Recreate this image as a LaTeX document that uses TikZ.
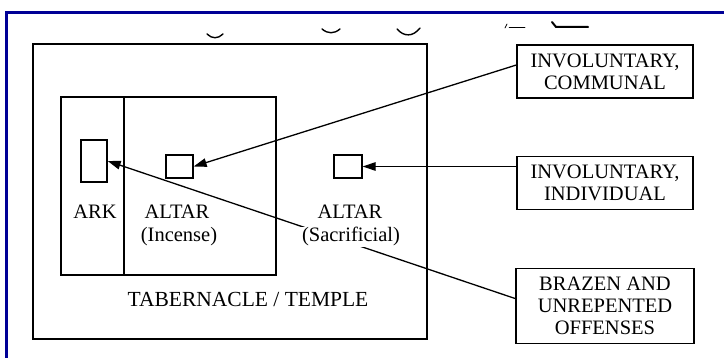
\documentclass[tikz,border=0pt]{standalone}
\usepackage{fontspec}
\setmainfont{Liberation Serif}
\usetikzlibrary{positioning,arrows.meta}
\definecolor{frameblue}{HTML}{000096}

\begin{document}
\begin{tikzpicture}[
        x=1pt, y=-1pt,
        >={Triangle[length=13pt,width=8.5pt]},
        every node/.style={font=\fontsize{20.5}{22}\selectfont},
        room/.style={draw, line width=1.3pt, inner sep=0pt},
        furniture/.style={draw, line width=1.3pt, inner sep=0pt},
        offense/.style={draw, line width=1.3pt, minimum width=176pt, minimum height=53pt, align=center, inner sep=0pt},
        caption/.style={anchor=base, inner sep=1pt, fill=white},
        pointer/.style={->, line width=1.3pt},
        scrap/.style={line width=1.4pt, line cap=round}
    ]
        \useasboundingbox (0,0) rectangle (724,358);
        \draw[frameblue, line width=3pt] (6.5,358) -- (6.5,12.5) -- (724,12.5);

        % rooms and furniture
        \node[room, minimum width=394pt, minimum height=295pt] (temple) at (230,191.5) {};
        \node[room, minimum width=63pt, minimum height=178pt] (holiest) at (92.5,186) {};
        \node[room, minimum width=152pt, minimum height=178pt] (holy) at (200,186) {};
        \node[furniture, minimum width=26pt, minimum height=42pt] (ark) at (94,161) {};
        \node[furniture, minimum width=27pt, minimum height=23pt] (incense) at (179.5,166.5) {};
        \node[furniture, minimum width=28pt, minimum height=23pt] (sacrificial) at (348,166.5) {};

        % kinds of offense
        \node[offense] (communal) at (605,71.5) {INVOLUNTARY,\\COMMUNAL};
        \node[offense, below=57pt of communal] (individual) {INVOLUNTARY,\\INDIVIDUAL};
        \node[offense, minimum width=178pt, minimum height=75pt, below=58pt of individual] (brazen) {BRAZEN AND\\UNREPENTED\\OFFENSES};

        \draw[pointer] ([yshift=6.5pt]communal.west) -- (incense.east);
        \draw[pointer] (individual.west |- sacrificial.east) -- (sacrificial.east);
        \draw[pointer] ([yshift=7.5pt]brazen.west) -- (ark.east);

        \node[caption] (arklabel) at (95,219) {ARK};
        \node[caption] (incenselabel) at (177,219) {ALTAR};
        \node[caption] (incensesub) at (179,242) {(Incense)};
        \node[caption] (sacrificiallabel) at (350,219) {ALTAR};
        \node[caption] (sacrificialsub) at (351,242) {(Sacrificial)};
        \node[caption, font=\fontsize{21.5}{24}\selectfont] (templelabel) at (248,307) {TABERNACLE / TEMPLE};

        % bits of the line above, cut off
        \draw[scrap] (207,34) .. controls (212,39) and (218,39) .. (223,34);
        \draw[scrap] (322,29) .. controls (328,34) and (334,34) .. (340,29);
        \draw[scrap] (397,29) .. controls (404,37) and (413,37) .. (420,28);
        \draw[scrap, line width=0.8pt] (505,28) -- (507,24);
        \draw[scrap, line width=0.5pt] (509,27) -- (525,27);
        \draw[scrap, line width=2pt] (552,22) -- (556,27) -- (588,27);
    \end{tikzpicture}
\end{document}
